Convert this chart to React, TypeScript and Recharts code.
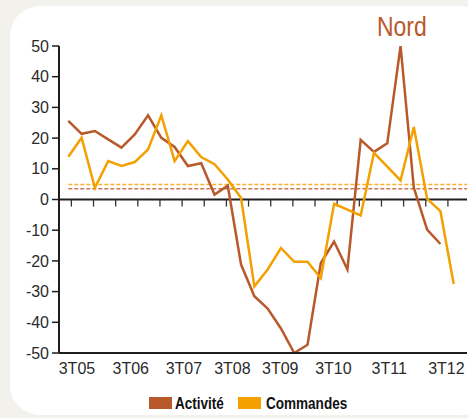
import React from 'react';
import { LineChart, Line, XAxis, YAxis, ReferenceLine, Legend } from 'recharts';

// Quarterly survey balances, Nord region
const quarters = [
    '3T05', '4T05', '1T06', '2T06', '3T06', '4T06', '1T07', '2T07', '3T07', '4T07',
    '1T08', '2T08', '3T08', '4T08', '1T09', '2T09', '3T09', '4T09', '1T10', '2T10',
    '3T10', '4T10', '1T11', '2T11', '3T11', '4T11', '1T12', '2T12', '3T12', '4T12',
];
const activite = [
    25.6, 21.4, 22.3, 19.6, 16.9, 21.2, 27.4, 20.1, 17.1, 10.9,
    11.8, 1.6, 4.5, -21.2, -31.5, -35.5, -42, -50, -47.3, -20.7,
    -13.7, -22.8, 19.4, 15.5, 18.3, 50, 3.8, -9.8, -14.5,
];
const commandes = [
    13.9, 20.1, 3.8, 12.5, 10.9, 12.2, 16.3, 27.4, 12.5, 19.0,
    13.8, 11.5, 6.5, 0.5, -28.3, -22.8, -15.8, -20.3, -20.3, -25.6,
    -1.4, -3.3, -5.2, 15.2, 10.7, 6.2, 23.6, 0.2, -3.8, -27.5,
];
// long-run averages (dashed)
const moyenneActivite = 3.5;
const moyenneCommandes = 4.9;

const yTicks = [-50, -40, -30, -20, -10, 0, 10, 20, 30, 40, 50];
const xLabels = ['3T05', '3T06', '3T07', '3T08', '3T09', '3T10', '3T11', '3T12'];
const xLabelPos = [0.65, 4.7, 8.7, 12.35, 15.95, 19.95, 24.15, 28.45];
// small tick marks along the zero line (every 5 months)
const zeroTicks = Array.from({ length: 18 }, (_, k) => 0.23 + (k * 5) / 3);

const BROWN = '#b8592b';
const ORANGE = '#f4a000';
const AXIS = '#1e1e1e';
const NARROW = "'Liberation Sans', Arial, sans-serif";

const data = quarters.map((q, i) => ({
    i,
    q,
    activite: i < activite.length ? activite[i] : null,
    commandes: commandes[i],
}));

// fake a condensed face: no narrow font installed
const Condensed = ({ children, width }: { children: React.ReactNode; width: number }) => (
    <span style={{ display: 'inline-block', width, whiteSpace: 'nowrap', transform: 'scaleX(0.82)', transformOrigin: 'left center' }}>
        {children}
    </span>
);

const LegendContent = () => (
    <div style={{ display: 'flex', alignItems: 'center', height: 33, paddingLeft: 149, paddingTop: 3, boxSizing: 'border-box', fontFamily: NARROW, fontWeight: 'bold', fontSize: 16.5, color: '#111' }}>
        <span style={{ display: 'inline-block', width: 23, height: 12, background: BROWN, marginRight: 3 }} />
        <Condensed width={63}>Activité</Condensed>
        <span style={{ display: 'inline-block', width: 23, height: 12, background: ORANGE, marginRight: 5 }} />
        <Condensed width={90}>Commandes</Condensed>
    </div>
);

const App: React.FC = () => {
    return (
        <div style={{ position: 'absolute', left: 0, top: 0, width: 468, height: 418, background: '#f3f1ec', overflow: 'hidden' }}>
            <div style={{ position: 'absolute', left: 10, top: 6, width: 480, height: 409, background: '#fff', borderRadius: 30 }} />
            <div style={{ position: 'absolute', left: 377, top: 13, fontFamily: NARROW, fontSize: 28, lineHeight: '28px', color: BROWN }}>
                <Condensed width={50}>Nord</Condensed>
            </div>
            <div style={{ position: 'absolute', left: 0, top: 0 }}>
                <LineChart width={468} height={418} data={data} margin={{ top: 46, right: 1, left: 0, bottom: 0 }}>
                    <XAxis
                        dataKey="i"
                        type="number"
                        domain={[-0.7, 30]}
                        allowDataOverflow
                        ticks={xLabelPos}
                        tickFormatter={(v: number) => xLabels[xLabelPos.indexOf(v)] ?? ''}
                        interval={0}
                        height={32}
                        tickLine={false}
                        tickSize={6}
                        tickMargin={4}
                        axisLine={{ stroke: AXIS, strokeWidth: 2 }}
                        tick={{ fill: '#2a2a2a', fontSize: 16, fontFamily: "'Liberation Sans', Arial, sans-serif" }}
                    />
                    <YAxis
                        domain={[-50, 50]}
                        allowDataOverflow
                        ticks={yTicks}
                        interval={0}
                        width={59}
                        tickSize={7}
                        tickMargin={3}
                        tickLine={{ stroke: AXIS, strokeWidth: 1.5 }}
                        axisLine={{ stroke: AXIS, strokeWidth: 2 }}
                        tick={{ fill: '#2a2a2a', fontSize: 16, fontFamily: "'Liberation Sans', Arial, sans-serif" }}
                    />
                    <Legend verticalAlign="bottom" content={LegendContent} />
                    <ReferenceLine y={0} stroke={AXIS} strokeWidth={2} />
                    {zeroTicks.map((t) => (
                        <ReferenceLine key={t} segment={[{ x: t, y: 0 }, { x: t, y: -2.3 }]} stroke="#333" strokeWidth={1.3} />
                    ))}
                    <ReferenceLine segment={[{ x: 0, y: moyenneCommandes }, { x: 30, y: moyenneCommandes }]} stroke={ORANGE} strokeOpacity={0.8} strokeWidth={1.5} strokeDasharray="4 2" />
                    <ReferenceLine segment={[{ x: 0, y: moyenneActivite }, { x: 30, y: moyenneActivite }]} stroke={BROWN} strokeOpacity={0.8} strokeWidth={1.5} strokeDasharray="4 2" />
                    <Line dataKey="activite" name="Activité" stroke={BROWN} strokeWidth={2.5} dot={false} isAnimationActive={false} />
                    <Line dataKey="commandes" name="Commandes" stroke={ORANGE} strokeWidth={2.5} dot={false} isAnimationActive={false} />
                </LineChart>
            </div>
        </div>
    );
};

export default App;
